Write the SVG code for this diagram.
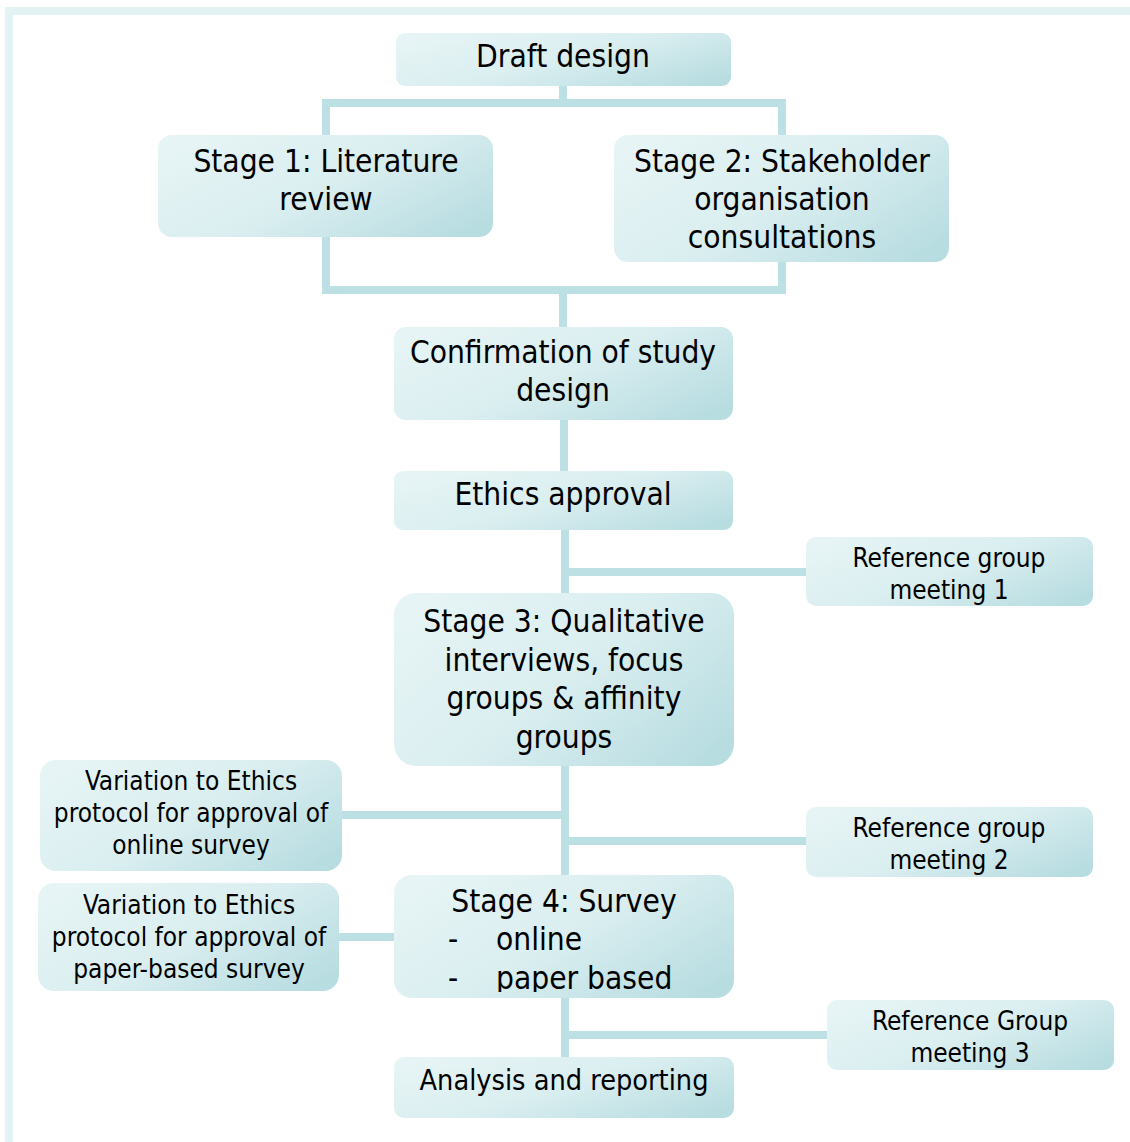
<svg xmlns="http://www.w3.org/2000/svg" width="1130" height="1142" viewBox="0 0 1130 1142">
<defs>
<linearGradient id="g" x1="0" y1="0.2" x2="1" y2="0.8">
<stop offset="0" stop-color="#E6F4F5"/>
<stop offset="0.5" stop-color="#DAEEF0"/>
<stop offset="1" stop-color="#B8DDE1"/>
</linearGradient>
<clipPath id="c4"><rect x="394" y="875" width="340" height="117"/></clipPath>
<style>
.box{fill:url(#g)}
.t{font-family:"DejaVu Sans Condensed","DejaVu Sans",sans-serif;font-size:31.4px;fill:#000;text-anchor:middle}
.s{font-family:"DejaVu Sans Condensed","DejaVu Sans",sans-serif;font-size:26px;fill:#000;text-anchor:middle}
.st{text-anchor:start}
.c{fill:none;stroke:#BCE0E3;stroke-width:8}
.f{fill:none;stroke:#E3F3F4;stroke-width:8}
</style>
</defs>
<rect width="1130" height="1142" fill="#fff"/>
<path class="f" d="M9,1142 V11 H1130"/>
<g id="connectors">
<path class="c" d="M563,86 V103 M322,103 H786 M326,103 V135 M782,103 V135"/>
<path class="c" d="M326,237 V290 M322,290 H786 M782,262 V290 M563,290 V327"/>
<path class="c" d="M564,420 V471"/>
<path class="c" d="M565,530 V593 M565,572 H806"/>
<path class="c" d="M565,766 V875 M342,815 H565 M565,841 H806"/>
<path class="c" d="M339,937 H394"/>
<path class="c" d="M565,998 V1057 M565,1035 H827"/>
</g>
<g id="draft"><rect class="box" x="396" y="33" width="335" height="53" rx="9"/><text class="t" x="563" y="67">Draft design</text></g>
<g id="stage1"><rect class="box" x="158" y="135" width="335" height="102" rx="14"/><text class="t" x="326" y="172">Stage 1: Literature</text><text class="t" x="326" y="210">review</text></g>
<g id="stage2"><rect class="box" x="614" y="135" width="335" height="127" rx="14"/><text class="t" x="782" y="172">Stage 2: Stakeholder</text><text class="t" x="782" y="210">organisation</text><text class="t" x="782" y="248">consultations</text></g>
<g id="confirm"><rect class="box" x="394" y="327" width="339" height="93" rx="12"/><text class="t" x="563" y="363">Confirmation of study</text><text class="t" x="563" y="401">design</text></g>
<g id="ethics"><rect class="box" x="394" y="471" width="339" height="59" rx="9"/><text class="t" x="563" y="505">Ethics approval</text></g>
<g id="ref1"><rect class="box" x="806" y="537" width="287" height="69" rx="10"/><text class="s" x="949" y="567">Reference group</text><text class="s" x="949" y="599">meeting 1</text></g>
<g id="stage3"><rect class="box" x="394" y="593" width="340" height="173" rx="22"/><text class="t" x="564" y="632">Stage 3: Qualitative</text><text class="t" x="564" y="671">interviews, focus</text><text class="t" x="564" y="709">groups &amp; affinity</text><text class="t" x="564" y="748">groups</text></g>
<g id="var1"><rect class="box" x="40" y="760" width="302" height="111" rx="16"/><text class="s" x="191" y="790">Variation to Ethics</text><text class="s" x="191" y="822">protocol for approval of</text><text class="s" x="191" y="854">online survey</text></g>
<g id="ref2"><rect class="box" x="806" y="807" width="287" height="70" rx="10"/><text class="s" x="949" y="837">Reference group</text><text class="s" x="949" y="869">meeting 2</text></g>
<g id="stage4"><rect class="box" x="394" y="875" width="340" height="123" rx="18"/><g clip-path="url(#c4)"><text class="t" x="564" y="912">Stage 4: Survey</text><text class="t st" x="448" y="950">-</text><text class="t st" x="496" y="950">online</text><text class="t st" x="448" y="989">-</text><text class="t st" x="496" y="989">paper based</text></g></g>
<g id="var2"><rect class="box" x="38" y="883" width="301" height="108" rx="16"/><text class="s" x="189" y="914">Variation to Ethics</text><text class="s" x="189" y="946">protocol for approval of</text><text class="s" x="189" y="978">paper-based survey</text></g>
<g id="ref3"><rect class="box" x="827" y="1000" width="287" height="70" rx="10"/><text class="s" x="970" y="1030">Reference Group</text><text class="s" x="970" y="1062">meeting 3</text></g>
<g id="analysis"><rect class="box" x="394" y="1057" width="340" height="61" rx="10"/><text class="t" x="564" y="1090" style="font-size:28.6px">Analysis and reporting</text></g>
</svg>
